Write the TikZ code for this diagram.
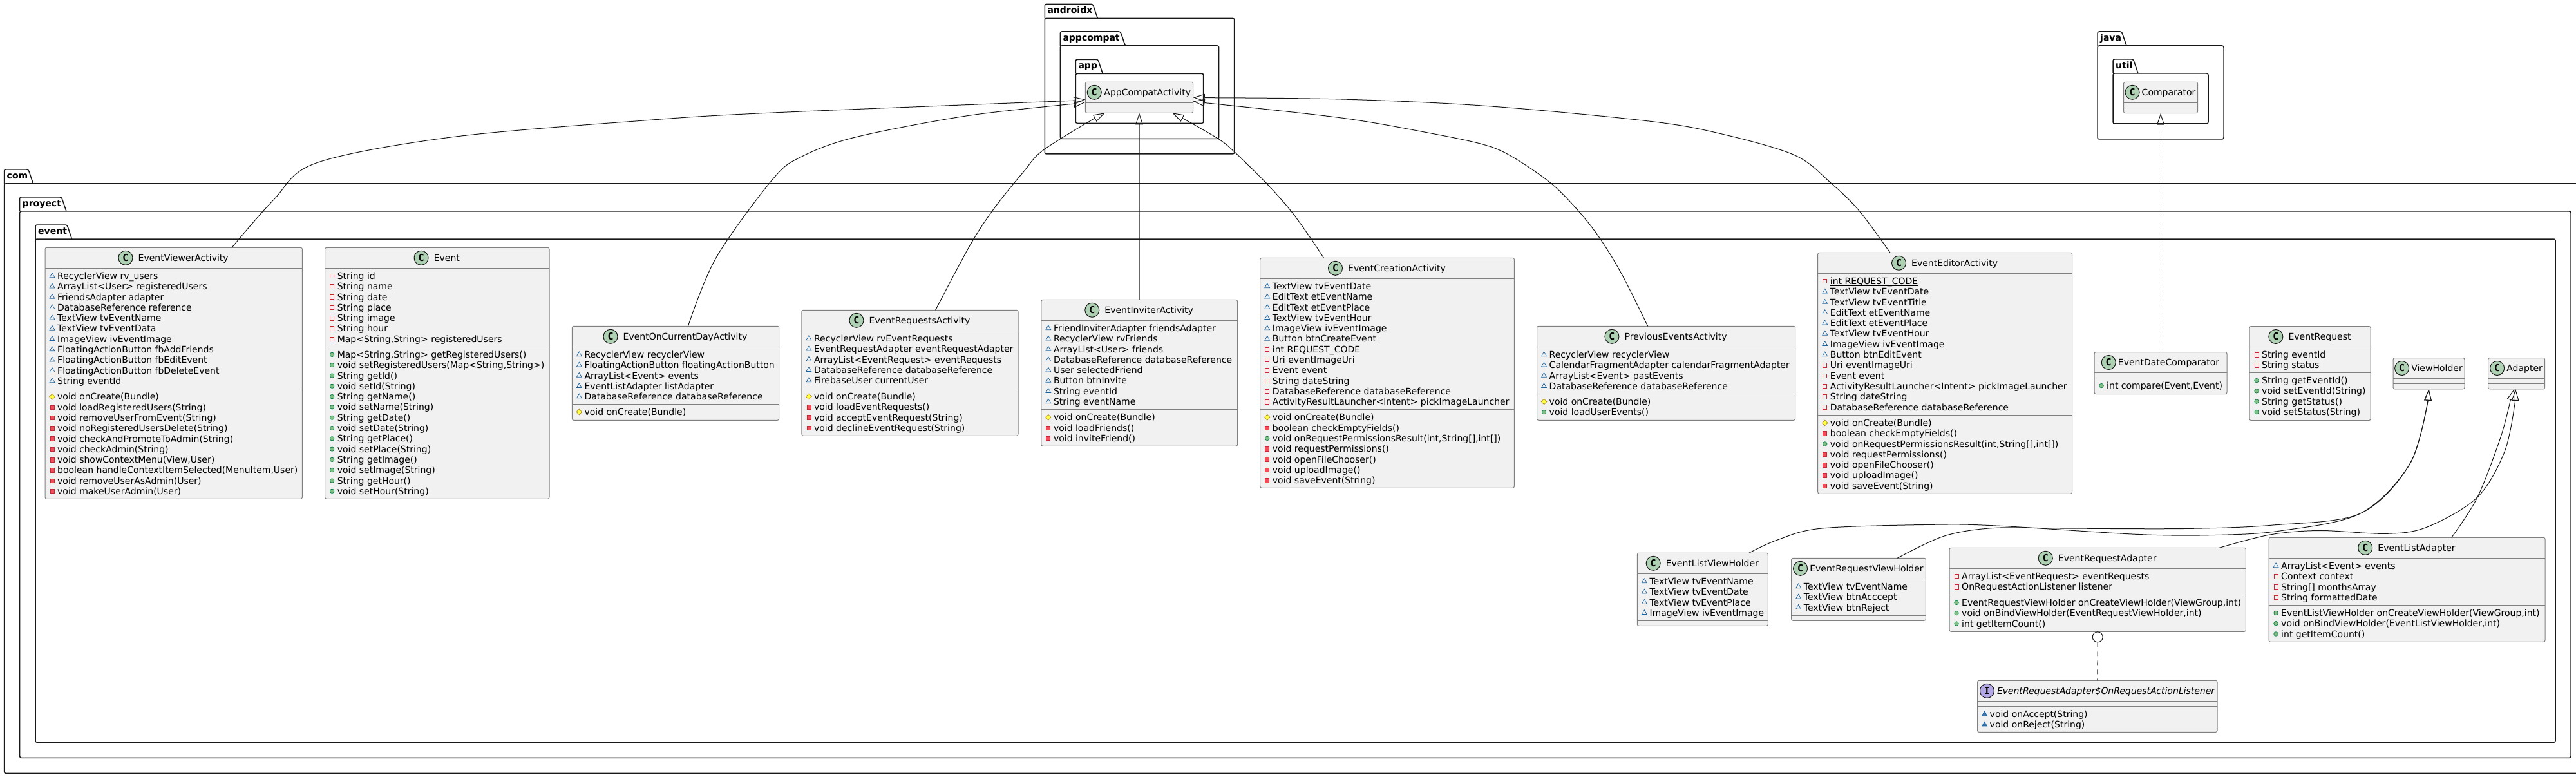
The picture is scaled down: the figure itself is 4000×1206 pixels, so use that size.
\documentclass[tikz,border=0pt]{standalone}
\usepackage{fontspec}
\setmainfont{DejaVu Sans}
\newfontfamily\slantfont{DejaVu Sans}[FakeSlant=0.2]
\newfontfamily\spotfont{DejaVu Sans Mono}
\usetikzlibrary{arrows.meta}
\usetikzlibrary{shapes.geometric}
\usetikzlibrary{positioning}

\definecolor{umlline}{HTML}{181818}
\definecolor{umlfill}{HTML}{F1F1F1}
\definecolor{spotclass}{HTML}{ADD1B2}
\definecolor{spotiface}{HTML}{B4A7E5}
\definecolor{pkgstroke}{HTML}{1963A0}
\definecolor{pkgmark}{HTML}{4177AF}
\definecolor{privstroke}{HTML}{C82930}
\definecolor{privmark}{HTML}{F24D5C}
\definecolor{pubstroke}{HTML}{038048}
\definecolor{pubmark}{HTML}{84BE84}
\definecolor{protstroke}{HTML}{B38D22}
\definecolor{protmark}{HTML}{FFFF44}

\tikzset{
  classbox/.style={rectangle, rounded corners=2.5pt, draw=umlline!55, line width=1pt, fill=umlfill,
    inner sep=0pt, outer sep=0pt, anchor=north west},
  rowline/.style={draw=umlline!55, line width=1pt},
  pkgbox/.style={rectangle, rounded corners=2.5pt, draw=umlline, line width=1.5pt,
    inner sep=0pt, outer sep=0pt, anchor=north west},
  pkgline/.style={draw=umlline, line width=1.5pt, rounded corners=2.5pt},
  pkgname/.style={font=\fontsize{14}{16}\selectfont\bfseries, inner sep=0pt, anchor=base west},
  rowtext/.style={font=\fontsize{14}{16}\selectfont, inner sep=0pt, anchor=base west},
  classtitle/.style={font=\fontsize{14}{16}\selectfont, inner sep=0pt, anchor=base},
  cspot/.style={circle, draw=umlline, line width=1pt, fill=#1, minimum size=22pt, inner sep=0pt,
    anchor=east, font=\fontsize{15}{16}\selectfont\spotfont\bfseries},
  fpkg/.style={regular polygon, regular polygon sides=3, draw=pkgstroke, line width=.7pt, minimum size=9pt, inner sep=0pt},
  mpkg/.style={fpkg, fill=pkgmark},
  fpriv/.style={rectangle, draw=privstroke, line width=.7pt, minimum width=6pt, minimum height=6.5pt, inner sep=0pt},
  mpriv/.style={fpriv, fill=privmark},
  mpub/.style={circle, draw=pubstroke, line width=.7pt, fill=pubmark, minimum size=6.5pt, inner sep=0pt},
  mprot/.style={diamond, draw=protstroke, line width=.7pt, fill=protmark, minimum size=9pt, inner sep=0pt},
  genline/.style={draw=umlline, line width=1pt, -{Triangle[open, length=18pt, width=11.5pt]}},
  realline/.style={genline, dash pattern=on 7pt off 7pt},
  nestline/.style={draw=umlline, line width=1pt, dash pattern=on 7pt off 7pt},
  nestmark/.style={circle, draw=umlline, line width=1pt, minimum size=16pt, inner sep=0pt, anchor=north}
}

% static member
\newcommand{\staticrow}[1]{\sbox0{#1}\rlap{\rule[-2.7pt]{\wd0}{.8pt}}#1}
% package frame: tab on top of the node
\newcommand{\pkgtab}[3]{
  \draw[pkgline] (#1.north west) -- ++(0,-22) -- ++(#3-7.5,0) -- ++(7.5,22);
  \node[pkgname] (#1-name) at ([xshift=4pt,yshift=7.6pt]#1.north west) {#2};
}
% class title with the round spot
\newcommand{\classhead}[5][8]{
  \pgfmathsetmacro{\hx}{(22+#1)/2}
  \node[classtitle] (#2-title) at ([xshift=\hx pt,yshift=-21.3pt]#2.north) {#5};
  \node[cspot=#3] (#2-spot) at ([xshift=-#1 pt,yshift=-16pt]#2-title.west |- #2.north) {#4};
}
\newcommand{\classsep}[2]{
  \draw[rowline] ([yshift=-#2 pt]#1.north west) -- ([yshift=-#2 pt]#1.north east);
}
% rows of one section: node, f or m, offset of the section, rows
\newcommand{\classrows}[4]{
  \classsep{#1}{#3}
  \foreach \vis/\txt [count=\i] in {#4} {
    \pgfmathsetmacro{\dy}{#3+17.1+(\i-1)*16.3}
    \pgfmathsetmacro{\dv}{\dy-5}
    \node[rowtext] (#1-#2\i) at ([xshift=19pt,yshift=-\dy pt]#1.north west) {\txt};
    \node[\vis] (#1-#2v\i) at ([xshift=11pt,yshift=-\dv pt]#1.north west) {};
  }
}

\begin{document}
\begin{tikzpicture}[x=1pt, y=-1pt]
  \clip (0,0) rectangle (4000,1206);

  % packages
  \node[pkgbox, minimum width=4030pt, minimum height=915.3pt] (comPkg) at (6.5,285) {};
  \pkgtab{comPkg}{com}{45}
  \node[pkgbox, minimum width=3961.5pt, minimum height=848.3pt] (proyectPkg) at (30.6,328) {};
  \pkgtab{proyectPkg}{proyect}{72.4}
  \node[pkgbox, minimum width=3913pt, minimum height=781.3pt] (eventPkg) at (55,371) {};
  \pkgtab{eventPkg}{event}{56.6}
  \node[pkgbox, minimum width=294.4pt, minimum height=210.7pt] (androidxPkg) at (1622.3,28.3) {};
  \pkgtab{androidxPkg}{androidx}{82}
  \node[pkgbox, minimum width=246.4pt, minimum height=144.3pt] (appcompatPkg) at (1646.3,71) {};
  \pkgtab{appcompatPkg}{appcompat}{101}
  \node[pkgbox, minimum width=198.4pt, minimum height=77pt] (appPkg) at (1670.3,114.3) {};
  \pkgtab{appPkg}{app}{42}
  \node[pkgbox, minimum width=196pt, minimum height=145pt] (javaPkg) at (3257,71) {};
  \pkgtab{javaPkg}{java}{45}
  \node[pkgbox, minimum width=148pt, minimum height=78pt] (utilPkg) at (3281,114) {};
  \pkgtab{utilPkg}{util}{39}

  % classes
  \node[classbox, minimum width=167.4pt, minimum height=48pt] (AppCompatActivity) at (1685.3,127.3) {};
  \classhead[3.5]{AppCompatActivity}{spotclass}{C}{AppCompatActivity}
  \classsep{AppCompatActivity}{32}
  \classsep{AppCompatActivity}{40}

  \node[classbox, minimum width=115pt, minimum height=48.3pt] (Comparator) at (3297.5,127.3) {};
  \classhead[3]{Comparator}{spotclass}{C}{Comparator}
  \classsep{Comparator}{32}
  \classsep{Comparator}{40}

  \node[classbox, minimum width=399.4pt, minimum height=390pt] (EventViewerActivity) at (70,384.3) {};
  \classhead{EventViewerActivity}{spotclass}{C}{EventViewerActivity}
  \classrows{EventViewerActivity}{f}{32}{fpkg/RecyclerView rv\_users, fpkg/ArrayList<User> registeredUsers, fpkg/FriendsAdapter adapter, fpkg/DatabaseReference reference, fpkg/TextView tvEventName, fpkg/TextView tvEventData, fpkg/ImageView ivEventImage, fpkg/FloatingActionButton fbAddFriends, fpkg/FloatingActionButton fbEditEvent, fpkg/FloatingActionButton fbDeleteEvent, fpkg/String eventId}
  \classrows{EventViewerActivity}{m}{219.4}{mprot/void onCreate(Bundle), mpriv/void loadRegisteredUsers(String), mpriv/void removeUserFromEvent(String), mpriv/void noRegisteredUsersDelete(String), mpriv/void checkAndPromoteToAdmin(String), mpriv/void checkAdmin(String), mpriv/{void showContextMenu(View,User)}, mpriv/{boolean handleContextItemSelected(MenuItem,User)}, mpriv/void removeUserAsAdmin(User), mpriv/void makeUserAdmin(User)}

  \node[classbox, minimum width=348.4pt, minimum height=390pt] (Event) at (504.6,384.3) {};
  \classhead{Event}{spotclass}{C}{Event}
  \classrows{Event}{f}{32}{fpriv/String id, fpriv/String name, fpriv/String date, fpriv/String place, fpriv/String image, fpriv/String hour, fpriv/{Map<String,String> registeredUsers}}
  \classrows{Event}{m}{154}{mpub/{Map<String,String> getRegisteredUsers()}, mpub/{void setRegisteredUsers(Map<String,String>)}, mpub/String getId(), mpub/void setId(String), mpub/String getName(), mpub/void setName(String), mpub/String getDate(), mpub/void setDate(String), mpub/String getPlace(), mpub/void setPlace(String), mpub/String getImage(), mpub/void setImage(String), mpub/String getHour(), mpub/void setHour(String)}

  \node[classbox, minimum width=321.4pt, minimum height=146pt] (EventOnCurrentDayActivity) at (888.3,506.3) {};
  \classhead{EventOnCurrentDayActivity}{spotclass}{C}{EventOnCurrentDayActivity}
  \classrows{EventOnCurrentDayActivity}{f}{32}{fpkg/RecyclerView recyclerView, fpkg/FloatingActionButton floatingActionButton, fpkg/ArrayList<Event> events, fpkg/EventListAdapter listAdapter, fpkg/DatabaseReference databaseReference}
  \classrows{EventOnCurrentDayActivity}{m}{121}{mprot/void onCreate(Bundle)}

  \node[classbox, minimum width=336.1pt, minimum height=195pt] (EventRequestsActivity) at (1244.9,481.3) {};
  \classhead{EventRequestsActivity}{spotclass}{C}{EventRequestsActivity}
  \classrows{EventRequestsActivity}{f}{32}{fpkg/RecyclerView rvEventRequests, fpkg/EventRequestAdapter eventRequestAdapter, fpkg/ArrayList<EventRequest> eventRequests, fpkg/DatabaseReference databaseReference, fpkg/FirebaseUser currentUser}
  \classrows{EventRequestsActivity}{m}{122}{mprot/void onCreate(Bundle), mpriv/void loadEventRequests(), mpriv/void acceptEventRequest(String), mpriv/void declineEventRequest(String)}

  \node[classbox, minimum width=304.8pt, minimum height=227pt] (EventInviterActivity) at (1616.8,465.3) {};
  \classhead{EventInviterActivity}{spotclass}{C}{EventInviterActivity}
  \classrows{EventInviterActivity}{f}{32}{fpkg/FriendInviterAdapter friendsAdapter, fpkg/RecyclerView rvFriends, fpkg/ArrayList<User> friends, fpkg/DatabaseReference databaseReference, fpkg/User selectedFriend, fpkg/Button btnInvite, fpkg/String eventId, fpkg/String eventName}
  \classrows{EventInviterActivity}{m}{170.4}{mprot/void onCreate(Bundle), mpriv/void loadFriends(), mpriv/void inviteFriend()}

  \node[classbox, minimum width=394.7pt, minimum height=357pt] (EventCreationActivity) at (1956.7,400.3) {};
  \classhead{EventCreationActivity}{spotclass}{C}{EventCreationActivity}
  \classrows{EventCreationActivity}{f}{32}{fpkg/TextView tvEventDate, fpkg/EditText etEventName, fpkg/EditText etEventPlace, fpkg/TextView tvEventHour, fpkg/ImageView ivEventImage, fpkg/Button btnCreateEvent, fpriv/\staticrow{int REQUEST\_CODE}, fpriv/Uri eventImageUri, fpriv/Event event, fpriv/String dateString, fpriv/DatabaseReference databaseReference, fpriv/ActivityResultLauncher<Intent> pickImageLauncher}
  \classrows{EventCreationActivity}{m}{235.4}{mprot/void onCreate(Bundle), mpriv/boolean checkEmptyFields(), mpub/{void onRequestPermissionsResult(int,String[],int[])}, mpriv/void requestPermissions(), mpriv/void openFileChooser(), mpriv/void uploadImage(), mpriv/void saveEvent(String)}

  \node[classbox, minimum width=401.2pt, minimum height=146pt] (PreviousEventsActivity) at (2386.5,506.3) {};
  \classhead{PreviousEventsActivity}{spotclass}{C}{PreviousEventsActivity}
  \classrows{PreviousEventsActivity}{f}{32}{fpkg/RecyclerView recyclerView, fpkg/CalendarFragmentAdapter calendarFragmentAdapter, fpkg/ArrayList<Event> pastEvents, fpkg/DatabaseReference databaseReference}
  \classrows{PreviousEventsActivity}{m}{105}{mprot/void onCreate(Bundle), mpub/void loadUserEvents()}

  \node[classbox, minimum width=394.9pt, minimum height=374pt] (EventEditorActivity) at (2822.7,392.3) {};
  \classhead{EventEditorActivity}{spotclass}{C}{EventEditorActivity}
  \classrows{EventEditorActivity}{f}{32}{fpriv/\staticrow{int REQUEST\_CODE}, fpkg/TextView tvEventDate, fpkg/TextView tvEventTitle, fpkg/EditText etEventName, fpkg/EditText etEventPlace, fpkg/TextView tvEventHour, fpkg/ImageView ivEventImage, fpkg/Button btnEditEvent, fpriv/Uri eventImageUri, fpriv/Event event, fpriv/ActivityResultLauncher<Intent> pickImageLauncher, fpriv/String dateString, fpriv/DatabaseReference databaseReference}
  \classrows{EventEditorActivity}{m}{252}{mprot/void onCreate(Bundle), mpriv/boolean checkEmptyFields(), mpub/{void onRequestPermissionsResult(int,String[],int[])}, mpriv/void requestPermissions(), mpriv/void openFileChooser(), mpriv/void uploadImage(), mpriv/void saveEvent(String)}

  \node[classbox, minimum width=206pt, minimum height=65pt] (EventDateComparator) at (3252,546.5) {};
  \classhead[3]{EventDateComparator}{spotclass}{C}{EventDateComparator}
  \classsep{EventDateComparator}{32}
  \classrows{EventDateComparator}{m}{40}{mpub/{int compare(Event,Event)}}

  \node[classbox, minimum width=188pt, minimum height=146pt] (EventRequest) at (3493,506.5) {};
  \classhead{EventRequest}{spotclass}{C}{EventRequest}
  \classrows{EventRequest}{f}{32}{fpriv/String eventId, fpriv/String status}
  \classrows{EventRequest}{m}{72}{mpub/String getEventId(), mpub/void setEventId(String), mpub/String getStatus(), mpub/void setStatus(String)}

  \node[classbox, minimum width=111pt, minimum height=48.3pt] (ViewHolder) at (3716,555.5) {};
  \classhead[3]{ViewHolder}{spotclass}{C}{ViewHolder}
  \classsep{ViewHolder}{32}
  \classsep{ViewHolder}{40}

  \node[classbox, minimum width=88pt, minimum height=48.3pt] (Adapter) at (3863.6,555.5) {};
  \classhead[3]{Adapter}{spotclass}{C}{Adapter}
  \classsep{Adapter}{32}
  \classsep{Adapter}{40}

  \node[classbox, minimum width=203.1pt, minimum height=113pt] (EventListViewHolder) at (2542.3,858.3) {};
  \classhead{EventListViewHolder}{spotclass}{C}{EventListViewHolder}
  \classrows{EventListViewHolder}{f}{32}{fpkg/TextView tvEventName, fpkg/TextView tvEventDate, fpkg/TextView tvEventPlace, fpkg/ImageView ivEventImage}
  \classsep{EventListViewHolder}{105}

  \node[classbox, minimum width=208.7pt, minimum height=97pt] (EventRequestViewHolder) at (2781.6,866.3) {};
  \classhead[3]{EventRequestViewHolder}{spotclass}{C}{EventRequestViewHolder}
  \classrows{EventRequestViewHolder}{f}{32}{fpkg/TextView tvEventName, fpkg/TextView btnAcccept, fpkg/TextView btnReject}
  \classsep{EventRequestViewHolder}{89}

  \node[classbox, minimum width=460.4pt, minimum height=130pt] (EventRequestAdapter) at (3027,850.3) {};
  \classhead{EventRequestAdapter}{spotclass}{C}{EventRequestAdapter}
  \classrows{EventRequestAdapter}{f}{32}{fpriv/ArrayList<EventRequest> eventRequests, fpriv/OnRequestActionListener listener}
  \classrows{EventRequestAdapter}{m}{73}{mpub/{EventRequestViewHolder onCreateViewHolder(ViewGroup,int)}, mpub/{void onBindViewHolder(EventRequestViewHolder,int)}, mpub/int getItemCount()}

  \node[classbox, minimum width=429pt, minimum height=162pt] (EventListAdapter) at (3523,834.3) {};
  \classhead{EventListAdapter}{spotclass}{C}{EventListAdapter}
  \classrows{EventListAdapter}{f}{32}{fpkg/ArrayList<Event> events, fpriv/Context context, fpriv/String[] monthsArray, fpriv/String formattedDate}
  \classrows{EventListAdapter}{m}{105}{mpub/{EventListViewHolder onCreateViewHolder(ViewGroup,int)}, mpub/{void onBindViewHolder(EventListViewHolder,int)}, mpub/int getItemCount()}

  \node[classbox, minimum width=372.5pt, minimum height=80pt] (OnRequestActionListener) at (3070.5,1056.3) {};
  \classhead[3]{OnRequestActionListener}{spotiface}{I}{\slantfont EventRequestAdapter\$OnRequestActionListener}
  \classsep{OnRequestActionListener}{32}
  \classrows{OnRequestActionListener}{m}{40}{mpkg/void onAccept(String), mpkg/void onReject(String)}

  % connectors
  \draw[genline] plot[smooth, tension=.55] coordinates {([xshift=290pt]EventViewerActivity.north west) (425,310) (491,253) (700,213) (1000,187) (1200,175) (1667,156.2)} -- ([yshift=-27pt]AppCompatActivity.north west);
  \draw[genline] plot[smooth, tension=.55] coordinates {([xshift=180.1pt]EventOnCurrentDayActivity.north west) (1112,400) (1200,278) (1245,243) (1328,213) (1500,180) (1667,161.2)} -- ([yshift=-31.4pt]AppCompatActivity.north west);
  \draw[genline] plot[smooth, tension=.55] coordinates {([xshift=207.7pt]EventRequestsActivity.north west) (1506.6,380) (1544,323) (1589,267) (1620,233) (1699,184)} -- ([xshift=30.4pt]AppCompatActivity.south west);
  \draw[genline] (EventInviterActivity.north) -- (AppCompatActivity.south);
  \draw[genline] plot[smooth, tension=.55] coordinates {([xshift=98.7pt]EventCreationActivity.north west) (2036,371) (2005,328) (1967,285) (1916,235) (1891,215) (1837.5,184.2)} -- ([xshift=-32.4pt]AppCompatActivity.south east);
  \draw[genline] plot[smooth, tension=.55] coordinates {([xshift=172.2pt]PreviousEventsActivity.north west) (2519,427) (2485,371) (2451.5,328) (2409,285) (2351,245) (2306,225) (2217,206) (2083,183) (1871,159.6)} -- ([yshift=-30pt]AppCompatActivity.north east);
  \draw[genline] plot[smooth, tension=.55] coordinates {([xshift=112.3pt]EventEditorActivity.north west) (2887.6,328) (2844,285) (2787,241) (2672,207.6) (2560,188) (2306,164.3) (2083,154) (1871.5,151.7)} -- ([yshift=-24pt]AppCompatActivity.north east);
  \draw[realline] (EventDateComparator.north) -- (Comparator.south);
  \draw[genline] plot[smooth, tension=.55] coordinates {([xshift=173.5pt]EventListViewHolder.north west) (2760,838) (2829,820) (3000,814.3) (3100,816) (3321,829.5) (3440,830.5) (3540,824) (3665,797) (3742,720) (3770,622)} -- (ViewHolder.south);
  \draw[genline] plot[smooth, tension=.55] coordinates {([xshift=164.6pt]EventRequestViewHolder.north west) (3019,832) (3096,819.5) (3200,820) (3391,820.5) (3530,815) (3665,797) (3742,720) (3770,622)} -- (ViewHolder.south);
  \draw[genline] plot[smooth, tension=.55] coordinates {([xshift=419pt]EventRequestAdapter.north west) (3524.6,830) (3601.8,823.5) (3707,828.3) (3770,817.5) (3847,771.6) (3889.5,699.8) (3905.6,622)} -- ([xshift=-1.5pt]Adapter.south);
  \draw[genline] plot[smooth, tension=.55] coordinates {([xshift=283.7pt]EventListAdapter.north west) (3847,771.6) (3882.5,680) (3898,622)} -- ([xshift=-3.5pt]Adapter.south);
  \node[nestmark, below=0pt of EventRequestAdapter] (nestMark) {};
  \draw[draw=umlline, line width=1pt] (nestMark.north) -- (nestMark.south);
  \draw[draw=umlline, line width=1pt] (nestMark.west) -- (nestMark.east);
  \draw[nestline] (nestMark.south) -- (OnRequestActionListener.north);
\end{tikzpicture}
\end{document}
